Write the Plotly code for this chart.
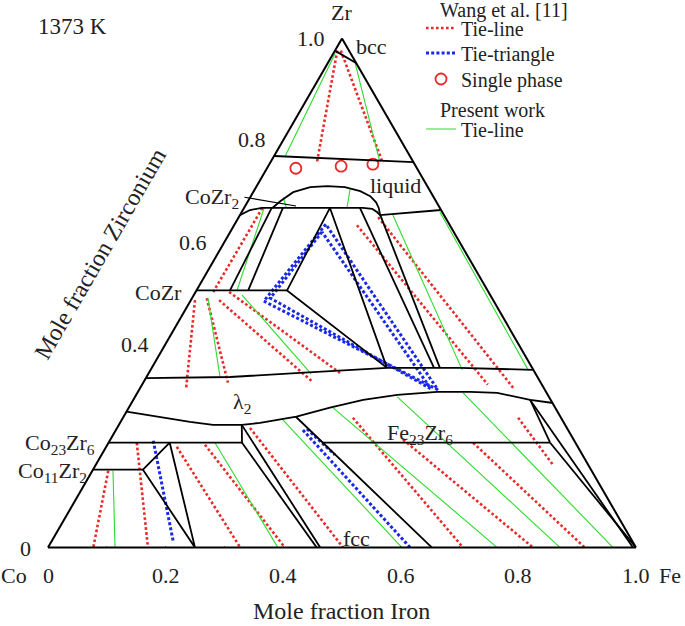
import plotly.graph_objects as go

# ---------------------------------------------------------------------------
# Data: compositions (mole fraction Fe, mole fraction Zr)
# Co = 1 - Fe - Zr
# ---------------------------------------------------------------------------

# Phase boundaries (black lines), one polyline per entry
boundary_fe = [
    [0.000, 0.049],                                                   # bcc
    [0.000, 0.243],                                                   # liquid upper
    [0.000, 0.012, 0.030, 0.202, 0.219, 0.230, 0.238, 0.337],         # CoZr2 / liquid lower
    [0.048, 0.055, 0.068, 0.092, 0.120, 0.151, 0.181, 0.203, 0.219, 0.229, 0.237],  # liquid dome
    [0.047, 0.057],
    [0.066, 0.088],
    [0.000, 0.154],                                                   # CoZr
    [0.146, 0.154, 0.400, 0.146],                                     # CoZr2-CoZr-λ2
    [0.197, 0.480],
    [0.237, 0.490],
    [0.000, 0.142, 0.257, 0.400, 0.524, 0.650],                       # λ2 upper
    [0.000, 0.118, 0.160, 0.209, 0.238, 0.294, 0.342, 0.391, 0.444,
     0.509, 0.565, 0.612, 0.675, 0.717],                              # λ2 lower
    [0.000, 0.227, 0.209],                                            # Co23Zr6
    [0.209, 0.463],
    [0.227, 0.457],
    [0.293, 0.653],
    [0.363, 0.751],                                                   # Fe23Zr6
    [0.675, 0.751],
    [0.675, 0.995],
    [0.751, 1.000],
    [0.000, 0.085],                                                   # Co11Zr2
    [0.085, 0.104, 0.250, 0.085],
]
boundary_zr = [
    [0.976, 0.951],
    [0.769, 0.757],
    [0.653, 0.663, 0.667, 0.667, 0.665, 0.659, 0.653, 0.663],
    [0.667, 0.680, 0.698, 0.708, 0.710, 0.708, 0.700, 0.690, 0.678, 0.667, 0.655],
    [0.667, 0.505],
    [0.667, 0.505],
    [0.505, 0.505],
    [0.667, 0.505, 0.353, 0.667],
    [0.667, 0.353],
    [0.655, 0.353],
    [0.333, 0.335, 0.343, 0.353, 0.353, 0.349],
    [0.267, 0.247, 0.241, 0.241, 0.245, 0.257, 0.275, 0.290, 0.300,
     0.306, 0.306, 0.304, 0.290, 0.284],
    [0.206, 0.206, 0.241],
    [0.241, 0.000],
    [0.206, 0.000],
    [0.257, 0.000],
    [0.206, 0.206],
    [0.290, 0.206],
    [0.290, 0.000],
    [0.206, 0.000],
    [0.153, 0.153],
    [0.153, 0.206, 0.000, 0.153],
]

# Wang et al. [11] tie-lines (red dotted)
wang_tie_fe = [
    [0.004, 0.079], [0.010, 0.192], [0.031, 0.030], [0.007, 0.078],
    [0.025, 0.144], [0.048, 0.288], [0.057, 0.325], [0.209, 0.588],
    [0.237, 0.634], [0.027, 0.077], [0.048, 0.170], [0.120, 0.327],
    [0.166, 0.403], [0.226, 0.502], [0.391, 0.706], [0.498, 0.825],
    [0.620, 0.913], [0.672, 0.777],
]
wang_tie_zr = [
    [0.976, 0.757], [0.976, 0.755], [0.667, 0.502], [0.486, 0.314],
    [0.490, 0.324], [0.486, 0.325], [0.502, 0.343], [0.633, 0.320],
    [0.649, 0.314], [0.151, 0.000], [0.206, 0.000], [0.198, 0.000],
    [0.202, 0.000], [0.235, 0.000], [0.255, 0.000], [0.212, 0.000],
    [0.206, 0.000], [0.255, 0.163],
]

# Wang et al. [11] tie-triangles (blue dotted)
wang_tri_fe = [
    [0.155, 0.125, 0.508, 0.155],
    [0.156, 0.133, 0.495, 0.156],
    [0.074, 0.207],
    [0.318, 0.616],
    [0.324, 0.397],
]
wang_tri_zr = [
    [0.635, 0.484, 0.310, 0.635],
    [0.620, 0.490, 0.312, 0.620],
    [0.210, 0.012],
    [0.231, 0.000],
    [0.233, 0.182],
]

# Wang et al. [11] single-phase alloys (red circles)
single_fe = [0.049, 0.124, 0.176]
single_zr = [0.745, 0.749, 0.753]

# Present work tie-lines (green)
present_tie_fe = [
    [0.003, 0.019], [0.047, 0.186], [0.056, 0.072], [0.161, 0.175],
    [0.034, 0.069], [0.027, 0.125], [0.082, 0.277], [0.260, 0.530],
    [0.337, 0.642], [0.035, 0.114], [0.181, 0.391], [0.274, 0.602],
    [0.347, 0.764], [0.446, 0.871], [0.554, 0.961],
]
present_tie_zr = [
    [0.971, 0.769], [0.951, 0.757], [0.688, 0.667], [0.706, 0.667],
    [0.667, 0.505], [0.490, 0.335], [0.496, 0.341], [0.653, 0.349],
    [0.659, 0.349], [0.151, 0.000], [0.206, 0.000], [0.251, 0.000],
    [0.275, 0.000], [0.296, 0.000], [0.304, 0.000],
]

# Axis ticks and labels
tick_vals = [0.0, 0.1, 0.2, 0.3, 0.4, 0.5, 0.6, 0.7, 0.8, 0.9, 1.0]
fe_label_vals = [0.0, 0.2, 0.4, 0.6, 0.8, 1.0]
fe_label_text = ["0", "0.2", "0.4", "0.6", "0.8", "1.0"]
zr_label_vals = [0.0, 0.4, 0.6, 0.8, 1.0]
zr_label_text = ["0", "0.4", "0.6", "0.8", "1.0"]

# ---------------------------------------------------------------------------
FONT = "Liberation Serif, Times New Roman, serif"
TXT = "#222222"
RED = "rgb(236,40,40)"
BLUE = "rgb(25,40,235)"
GREEN = "rgb(45,220,45)"

W, H = 685, 626
ML, MT = 48, 38            # triangle: Co corner at x=48, base at y=548
PW, PH = 588, 510
MR, MB = W - ML - PW, H - MT - PH


def join(segs_fe, segs_zr):
    fe, zr = [], []
    for sf, sz in zip(segs_fe, segs_zr):
        fe += list(sf) + [None]
        zr += list(sz) + [None]
    return fe, zr


def tern(fe, zr, **kw):
    co = [None if f is None else 1 - f - z for f, z in zip(fe, zr)]
    return go.Scatterternary(a=zr, b=co, c=fe, cliponaxis=False,
                             hoverinfo="skip", **kw)


fig = go.Figure()

# tie-lines / tie-triangles
fe, zr = join(wang_tie_fe, wang_tie_zr)
fig.add_trace(tern(fe, zr, mode="lines", name="Tie-line", legend="legend",
                   line=dict(color=RED, width=2.6, dash="2.6px,2.4px")))
fe, zr = join(wang_tri_fe, wang_tri_zr)
fig.add_trace(tern(fe, zr, mode="lines", name="Tie-triangle", legend="legend2",
                   line=dict(color=BLUE, width=3, dash="3px,2.2px")))
fig.add_trace(tern(single_fe, single_zr, mode="markers", name="Single phase",
                   legend="legend3",
                   marker=dict(symbol="circle-open", size=11, color=RED,
                               line=dict(width=1.8, color=RED))))
fe, zr = join(present_tie_fe, present_tie_zr)
fig.add_trace(tern(fe, zr, mode="lines", name="Tie-line", legend="legend4",
                   line=dict(color=GREEN, width=1.1)))

# phase boundaries
fe, zr = join(boundary_fe, boundary_zr)
fig.add_trace(tern(fe, zr, mode="lines", showlegend=False,
                   line=dict(color="black", width=1.8)))

# chevron tick marks on all three edges
TL = 0.017
tk_fe, tk_zr = [], []
for t in tick_vals:
    tk_fe += [t, t, t + TL, None]            # bottom edge (Zr = 0)
    tk_zr += [-TL, 0.0, -TL, None]
    tk_fe += [-TL, 0.0, -TL, None]           # left edge (Fe = 0)
    tk_zr += [t, t, t + TL, None]
    tk_fe += [1 - t + TL, 1 - t, 1 - t, None]  # right edge (Co = 0)
    tk_zr += [t, t, t + TL, None]
fig.add_trace(tern(tk_fe, tk_zr, mode="lines", showlegend=False,
                   line=dict(color="black", width=1.5)))


def P(px, py):
    """figure pixel -> paper fraction"""
    return (px - ML) / PW, (MT + PH - py) / PH


def ann(text, px, py, size=22, xanchor="center", yanchor="middle", angle=0):
    x, y = P(px, py)
    return dict(text=text, x=x, y=y, xref="paper", yref="paper",
                showarrow=False, xanchor=xanchor, yanchor=yanchor,
                textangle=angle,
                font=dict(family=FONT, size=size, color=TXT))


X0, Y0 = ML, MT + PH     # pixel of the Co corner
annotations = [
    ann("1373 K", 72, 26, 23),
    ann("Zr", 341, 13, 22),
    ann("Co", 14, 575, 22),
    ann("Fe", 670, 575, 22),
    ann("Mole fraction Iron", 341, 611, 24),
    ann("Mole fraction Zirconium", 100, 254, 24, angle=-60),
    ann("bcc", 372, 46, 22),
    ann("liquid", 395, 185, 22),
    ann("λ<sub>2</sub>", 242, 403, 22),
    ann("Fe<sub>23</sub>Zr<sub>6</sub>", 420, 434, 22),
    ann("fcc", 356, 538, 22),
    ann("CoZr<sub>2</sub>", 241, 198, 22, xanchor="right"),
    ann("CoZr", 184, 292, 22, xanchor="right"),
    ann("Co<sub>23</sub>Zr<sub>6</sub>", 97, 444, 22, xanchor="right"),
    ann("Co<sub>11</sub>Zr<sub>2</sub>", 89, 472, 22, xanchor="right"),
    ann("Wang et al. [11]", 438, 11, 20, xanchor="left"),
    ann("Present work", 438, 110, 20, xanchor="left"),
]
for v, s in zip(fe_label_vals, fe_label_text):
    annotations.append(ann(s, X0 + PW * v, 575, 22))
for v, s in zip(zr_label_vals, zr_label_text):
    annotations.append(ann(s, X0 + PW * v / 2 - 15, Y0 - PH * v, 22,
                           xanchor="right"))
# leader line of the CoZr2 label
hx, hy = P(296, 206)
annotations.append(dict(text="", x=hx, y=hy, xref="paper", yref="paper",
                        showarrow=True, arrowhead=0, arrowwidth=1.2,
                        arrowcolor="black", standoff=0, ax=-53, ay=-9))

axis_style = dict(showline=True, linecolor="black", linewidth=2,
                  showgrid=False, ticks="", showticklabels=False, min=0,
                  title=dict(text=""))


def legend_at(py):
    return dict(x=P(421, 0)[0], y=P(0, py)[1], xanchor="left",
                yanchor="middle", bgcolor="rgba(0,0,0,0)", itemwidth=30,
                font=dict(family=FONT, size=20, color=TXT))


fig.update_layout(
    width=W, height=H,
    margin=dict(l=ML, r=MR, t=MT, b=MB, autoexpand=False),
    paper_bgcolor="white",
    ternary=dict(sum=1, bgcolor="white",
                 domain=dict(x=[0, 1], y=[0, 1]),
                 aaxis=axis_style, baxis=axis_style, caxis=axis_style),
    annotations=annotations,
    legend=legend_at(28),
    legend2=legend_at(53),
    legend3=legend_at(79),
    legend4=legend_at(129),
    showlegend=True,
)

# remove the browser's default 8 px page margin so the figure fills the window
fig.write_html("out.html", config={"displayModeBar": False},
               post_script="document.body.style.margin = '0px';")
